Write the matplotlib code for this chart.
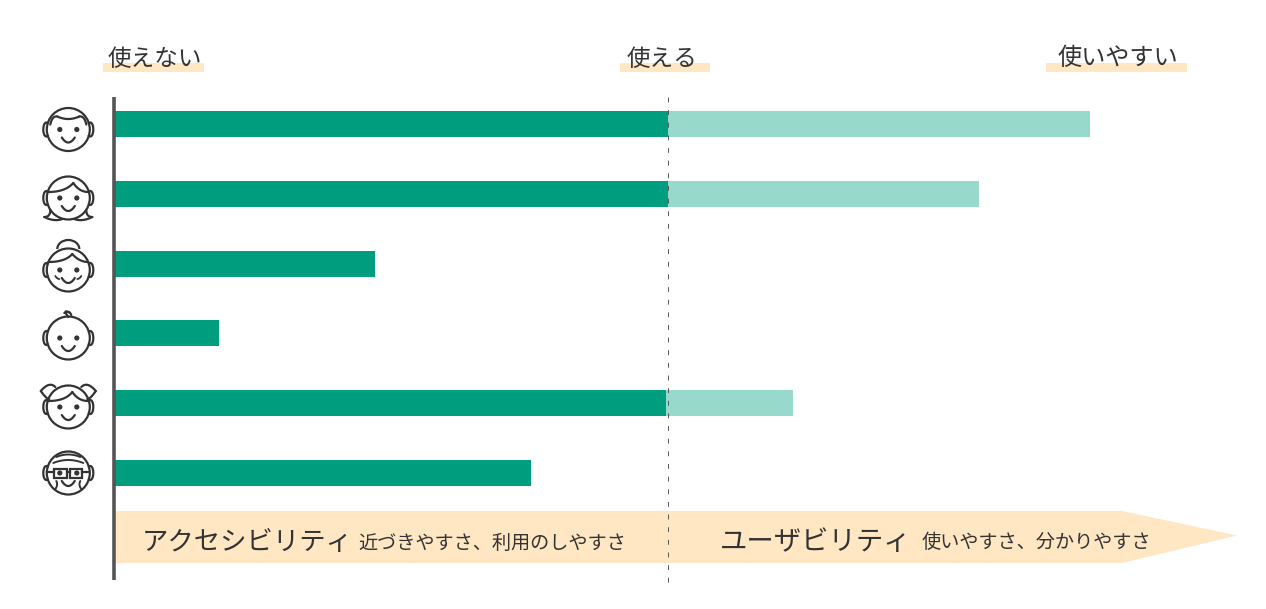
import numpy as np
import matplotlib as mpl
mpl.use('Agg')
import matplotlib.pyplot as plt
from matplotlib.patches import Arc, Circle, Polygon, Rectangle

plt.rcParams['font.family'] = ['Noto Sans CJK JP', 'DejaVu Sans']

# Data: 0 = unusable, 100 = usable line
users = ['man', 'woman', 'grandma', 'baby', 'girl', 'grandpa']
access_values = [100, 100, 47, 18.8, 99.5, 75.2]
usability_values = [76, 56, 0, 0, 23, 0]
scale_labels = ['使えない', '使える', '使いやすい']
scale_label_x = [108, 627, 1058]
scale_label_y = [59, 60, 58]
scale_label_size = [17.0, 17.0, 17.4]
scale_under = [(103, 204), (620, 710), (1046, 1187)]

DARK = '#009e7f'
LIGHT = '#97d9cb'
CREAM = '#ffe7c4'
INK = '#333333'

fig = plt.figure(figsize=(12.66, 6.09), dpi=100)

# bars get real axes, 0 at x=114.5px, 100 at x=668.5px
ax = fig.add_axes([0, 0, 1, 1])
ax.set_xlim(-114.5 / 5.54, (1266 - 114.5) / 5.54)
ax.set_ylim((609 - 124) / 69.8, -124 / 69.8)
ax.axis('off')
ypos = np.arange(len(users))

# overlay in pixel coordinates for the decorations
px = fig.add_axes([0, 0, 1, 1], zorder=-1)
px.set_xlim(0, 1266)
px.set_ylim(609, 0)
px.axis('off')

top = fig.add_axes([0, 0, 1, 1], zorder=5)
top.set_xlim(0, 1266)
top.set_ylim(609, 0)
top.axis('off')
top.patch.set_alpha(0)
ax.patch.set_alpha(0)

ax.barh(ypos, access_values, height=0.3725, color=DARK, linewidth=0)
ax.barh(ypos, usability_values, left=access_values, height=0.3725, color=LIGHT, linewidth=0)

# arrow along the bottom
px.add_patch(Polygon([(115, 511), (1122, 511), (1237, 535.5), (1122, 563), (115, 563)],
                     closed=True, fc=CREAM, ec='none'))

# scale labels with the highlight under them
for lab, x, y, fs, (x0, x1) in zip(scale_labels, scale_label_x, scale_label_y, scale_label_size, scale_under):
    px.add_patch(Rectangle((x0, 63), x1 - x0, 9, fc=CREAM, ec='none'))
    top.text(x, y, lab, fontsize=fs, color=INK, ha='left', va='center')

top.plot([114.2, 114.2], [97, 580], color='#555555', lw=2.6, solid_capstyle='butt')
top.plot([668, 668], [97, 585], color='#555555', lw=0.7, ls=(0, (5, 8)))

top.text(142, 543, 'アクセシビリティ', fontsize=19, color=INK, ha='left', va='center')
top.text(358, 543, '近づきやすさ、利用のしやすさ', fontsize=13.8, color=INK, ha='left', va='center')
top.text(720, 543, 'ユーザビリティ', fontsize=19.7, color=INK, ha='left', va='center')
top.text(922, 543, '使いやすさ、分かりやすさ', fontsize=13.8, color=INK, ha='left', va='center')


def curve(pts, lw=1.6):
    pts = np.array(pts, dtype=float)
    t = np.linspace(0, 1, 30)
    # quadratic bezier through three control points
    xs = (1 - t) ** 2 * pts[0, 0] + 2 * t * (1 - t) * pts[1, 0] + t ** 2 * pts[2, 0]
    ys = (1 - t) ** 2 * pts[0, 1] + 2 * t * (1 - t) * pts[1, 1] + t ** 2 * pts[2, 1]
    top.plot(xs, ys, color=INK, lw=lw, solid_capstyle='round')


def face(kind, cx, cy):
    r = 21.5
    lw = 1.6
    top.add_patch(Circle((cx, cy), r, fc='none', ec=INK, lw=lw))
    # ears
    top.add_patch(Arc((cx - r - 0.5, cy), 6, 14, theta1=70, theta2=290, ec=INK, lw=lw))
    top.add_patch(Arc((cx + r + 0.5, cy), 6, 14, theta1=-110, theta2=110, ec=INK, lw=lw))
    # eyes and smile
    top.add_patch(Circle((cx - 8.5, cy), 2.6, fc=INK, ec='none'))
    top.add_patch(Circle((cx + 8.5, cy), 2.6, fc=INK, ec='none'))
    curve([(cx - 6.5, cy + 8), (cx, cy + 18), (cx + 6.5, cy + 8)])
    if kind == 'man':
        curve([(cx - 18, cy - 5), (cx - 16, cy - 14), (cx - 11, cy - 13)])
        curve([(cx - 11, cy - 13), (cx, cy - 8), (cx + 11, cy - 13)])
        curve([(cx + 11, cy - 13), (cx + 16, cy - 14), (cx + 18, cy - 5)])
    elif kind == 'woman':
        curve([(cx - 20, cy - 6), (cx - 3, cy - 6), (cx + 5, cy - 15)])
        curve([(cx + 5, cy - 15), (cx + 11, cy - 6), (cx + 20, cy - 6)])
        curve([(cx - 18, cy + 12), (cx - 18, cy + 19), (cx - 24, cy + 19)])
        curve([(cx - 24, cy + 19), (cx - 14, cy + 24), (cx - 6, cy + 21)])
        curve([(cx + 18, cy + 12), (cx + 18, cy + 19), (cx + 24, cy + 19)])
        curve([(cx + 24, cy + 19), (cx + 14, cy + 24), (cx + 6, cy + 21)])
    elif kind == 'grandma':
        curve([(cx - 20, cy - 8), (cx - 3, cy - 8), (cx + 4, cy - 16)])
        curve([(cx + 4, cy - 16), (cx + 11, cy - 8), (cx + 20, cy - 8)])
        top.add_patch(Arc((cx, cy - 21), 22, 18, theta1=180, theta2=360, ec=INK, lw=lw))
        curve([(cx - 13, cy + 6), (cx - 11, cy + 9), (cx - 9, cy + 9)], lw=1.3)
        curve([(cx + 13, cy + 6), (cx + 11, cy + 9), (cx + 9, cy + 9)], lw=1.3)
    elif kind == 'baby':
        curve([(cx, cy - 21), (cx - 6, cy - 29), (cx + 1, cy - 25.5)], lw=1.6)
        curve([(cx - 4, cy - 25), (cx + 1, cy - 28), (cx + 3, cy - 23)], lw=1.6)
    elif kind == 'girl':
        curve([(cx - 20, cy - 6), (cx - 3, cy - 6), (cx + 4, cy - 15)])
        curve([(cx + 4, cy - 15), (cx + 10, cy - 6), (cx + 20, cy - 6)])
        for s in (-1, 1):
            curve([(cx + s * 13, cy - 20), (cx + s * 19, cy - 26), (cx + s * 27.5, cy - 16)])
            curve([(cx + s * 27.5, cy - 16), (cx + s * 22, cy - 8), (cx + s * 19, cy - 8)])
    elif kind == 'grandpa':
        curve([(cx - 12, cy - 16), (cx, cy - 21), (cx + 12, cy - 16)], lw=1.4)
        curve([(cx - 15, cy - 10), (cx, cy - 16), (cx + 15, cy - 10)], lw=1.4)
        top.add_patch(Rectangle((cx - 14, cy - 4), 12.5, 9, fc='none', ec=INK, lw=lw))
        top.add_patch(Rectangle((cx + 1.5, cy - 4), 12.5, 9, fc='none', ec=INK, lw=lw))
        top.plot([cx - 1.5, cx + 1.5], [cy - 1, cy - 1], color=INK, lw=lw)
        top.plot([cx - 14, cx - 21], [cy - 1, cy - 1], color=INK, lw=lw)
        top.plot([cx + 14, cx + 21], [cy - 1, cy - 1], color=INK, lw=lw)
        curve([(cx - 12, cy + 8), (cx - 10, cy + 12), (cx - 13, cy + 16)], lw=1.4)
        curve([(cx + 12, cy + 8), (cx + 10, cy + 12), (cx + 13, cy + 16)], lw=1.4)


face_y = [129.5, 198, 270, 338, 407, 473]
for kind, y in zip(users, face_y):
    face(kind, 68.3, y)

plt.savefig('out.png', dpi=100)
